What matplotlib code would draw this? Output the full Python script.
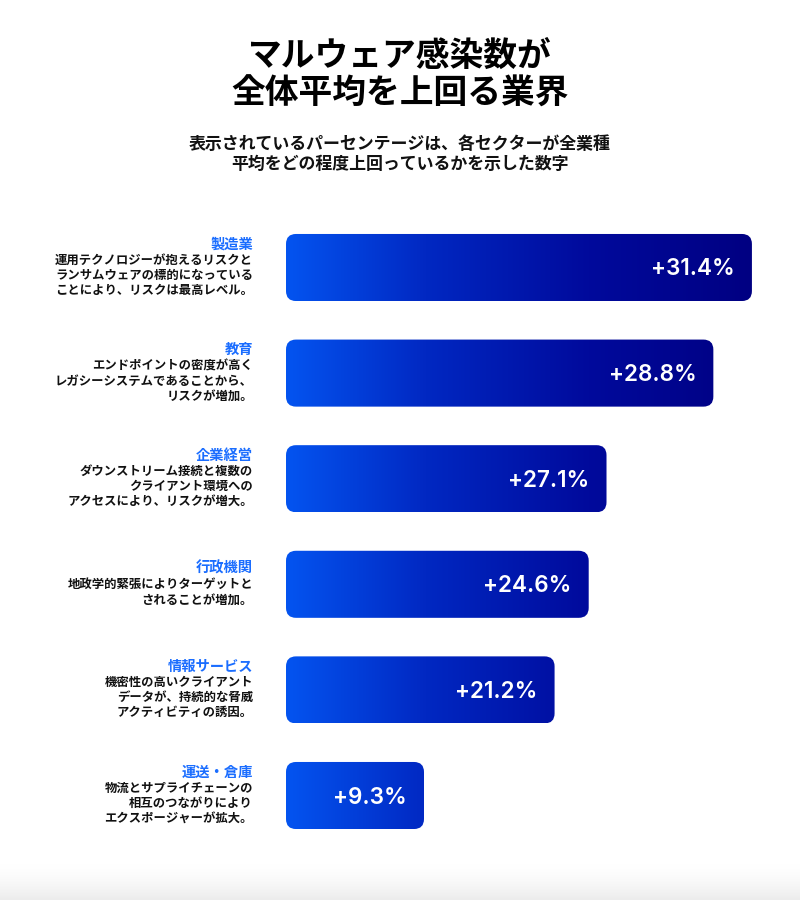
import numpy as np
import matplotlib
matplotlib.use('Agg')
from matplotlib import pyplot as plt
from matplotlib.patches import FancyBboxPatch
from matplotlib.colors import LinearSegmentedColormap, to_rgb

plt.rcParams['font.family'] = ['Noto Sans CJK JP', 'DejaVu Sans']

title_lines = ['マルウェア感染数が', '全体平均を上回る業界']
subtitle_lines = ['表示されているパーセンテージは、各セクターが全業種',
                  '平均をどの程度上回っているかを示した数字']

sectors = ['製造業', '教育', '企業経営', '行政機関', '情報サービス', '運送・倉庫']
notes = [
    ['運用テクノロジーが抱えるリスクと', 'ランサムウェアの標的になっている', 'ことにより、リスクは最高レベル。'],
    ['エンドポイントの密度が高く', 'レガシーシステムであることから、', 'リスクが増加。'],
    ['ダウンストリーム接続と複数の', 'クライアント環境への', 'アクセスにより、リスクが増大。'],
    ['地政学的緊張によりターゲットと', 'されることが増加。'],
    ['機密性の高いクライアント', 'データが、持続的な脅威', 'アクティビティの誘因。'],
    ['物流とサプライチェーンの', '相互のつながりにより', 'エクスポージャーが拡大。'],
]
values = [31.4, 28.8, 27.1, 24.6, 21.2, 9.3]
# lengths of the bars as drawn in the original (not proportional to the labels)
bar_lengths = [31.4, 28.8, 21.6, 20.4, 18.1, 9.3]

blue = '#1A6DFF'
grad = LinearSegmentedColormap.from_list(
    'bar', [(0.0, '#0454F0'), (0.3, '#0128C2'), (0.65, '#000A9C'), (1.0, '#000082')])

fig = plt.figure(figsize=(8, 9), dpi=100)
fig.patch.set_facecolor('white')

# soft grey fade at the bottom edge
fade_ax = fig.add_axes([0, 0, 1, 36 / 900])
fade_ax.axis('off')
fade = np.linspace(0, 1, 64).reshape(-1, 1) ** 1.5
c0, c1 = np.array(to_rgb('white')), np.array(to_rgb('#ECECEC'))
fade_ax.imshow(c0 + (c1 - c0) * fade[:, :, None], aspect='auto', extent=(0, 1, 0, 1))

for text, y in zip(title_lines, [55, 93]):
    fig.text(0.5, 1 - y / 900, text, ha='center', va='center',
             fontsize=24.3, fontweight='bold', color='black')
for text, y in zip(subtitle_lines, [144, 163.5]):
    fig.text(0.5, 1 - y / 900, text, ha='center', va='center',
             fontsize=12.2, fontweight='bold', color='#111111')

# bar area: x in percent, y in category index
px_x = 514 / 34.64
px_y = 105.6
ax = fig.add_axes([286 / 800, (900 - 848.3) / 900, 514 / 800, 633.6 / 900])
ax.axis('off')

bar_h = 0.635
radius = 10 / px_x
pt = 0.72  # points per pixel at 100 dpi

for i, (name, lines, val, length) in enumerate(zip(sectors, notes, values, bar_lengths)):
    patch = FancyBboxPatch((0, i - bar_h / 2), length, bar_h,
                           boxstyle=f'round,pad=0,rounding_size={radius}',
                           mutation_aspect=px_x / px_y,
                           facecolor='none', edgecolor='none', linewidth=0)
    ax.add_patch(patch)
    im = ax.imshow(np.linspace(0, 1, 512).reshape(1, -1), cmap=grad, aspect='auto',
                   extent=(0, 31.4, i + bar_h / 2, i - bar_h / 2), interpolation='bilinear')
    im.set_clip_path(patch)

    ax.annotate(f'+{val}%', xy=(length, i), xytext=(-17 * pt, -2 * pt), textcoords='offset points',
                ha='right', va='center', color='white', fontsize=16.2,
                family=['Inter', 'DejaVu Sans'], fontweight='semibold')

    span = 16 + 15 * (len(lines) - 1)
    dy = -span / 2
    ax.annotate(name, xy=(0, i), xytext=(-33 * pt, -dy * pt), textcoords='offset points',
                ha='right', va='center', color=blue, fontsize=10.3, fontweight='bold')
    dy += 16
    for line in lines:
        ax.annotate(line, xy=(0, i), xytext=(-33 * pt, -dy * pt), textcoords='offset points',
                    ha='right', va='center', color='#111111', fontsize=8.9, fontweight='bold')
        dy += 15

ax.set_xlim(0, 34.64)
ax.set_ylim(5.5, -0.5)

fig.savefig('out.png', dpi=100, facecolor='white')
